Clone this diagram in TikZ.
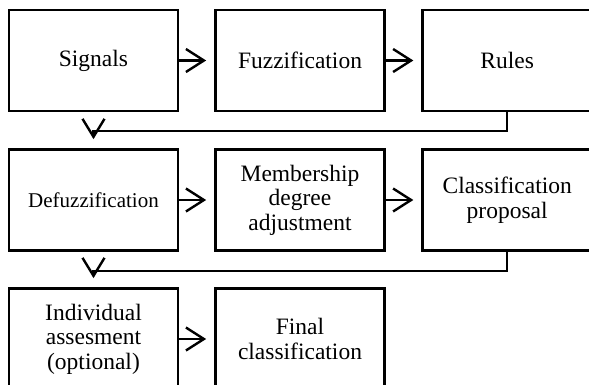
\documentclass[tikz,border=0pt]{standalone}
\usepackage{fontspec}
\setmainfont{Liberation Serif}
\usetikzlibrary{arrows.meta}
\begin{document}
\begin{tikzpicture}[x=1pt,y=-1pt,
  box/.style={draw, line width=2.7pt, minimum width=169pt, minimum height=101pt, inner sep=2pt, align=center, font=\fontsize{23.5}{24.5}\selectfont},
  arr/.style={line width=2.2pt, -{Straight Barb[length=18pt,width=23pt,line width=2.4pt]}, shorten >=8pt},
  link/.style={line width=2.2pt, -{Straight Barb[length=18pt,width=22pt,line width=2.4pt]}, shorten >=9pt}]
\useasboundingbox (0,0) rectangle (589,385);
\clip (0,0) rectangle (589,385);
\node[box] (sig) at (93.5,60.5) {Signals};
\node[box] (fuz) at (300,60.5) {Fuzzification};
\node[box] (rul) at (507.2,60.5) {Rules};
\node[box, font=\fontsize{21}{24}\selectfont] (def) at (93.5,200) {Defuzzification};
\node[box] (mem) at (300,200) {Membership\\degree\\adjustment};
\node[box] (pro) at (507.2,200) {Classification\\proposal};
\node[box] (ind) at (93.5,339) {Individual\\assesment\\(optional)};
\node[box] (fin) at (300,339) {Final\\classification};
\draw[arr] (sig) -- (fuz);
\draw[arr] (fuz) -- (rul);
\draw[arr] (def) -- (mem);
\draw[arr] (mem) -- (pro);
\draw[arr] (ind) -- (fin);
\draw[link] (rul.south) -- ++(0,19) -| (def.north);
\draw[link] (pro.south) -- ++(0,19) -| (ind.north);
\end{tikzpicture}
\end{document}
